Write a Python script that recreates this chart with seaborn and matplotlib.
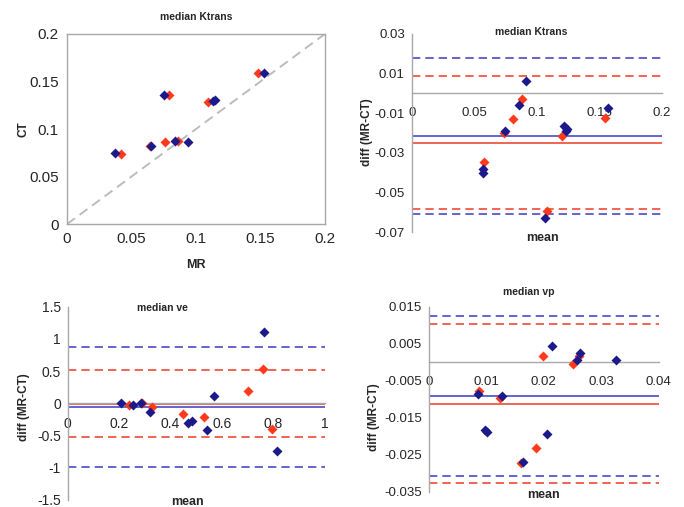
import numpy as np
import pandas as pd
import matplotlib
matplotlib.use('Agg')
import matplotlib.pyplot as plt
import seaborn as sns

# panel 1: median Ktrans, MR vs CT
kt_blue_mr = [0.037, 0.065, 0.075, 0.084, 0.094, 0.113, 0.115, 0.153]
kt_blue_ct = [0.075, 0.082, 0.136, 0.087, 0.086, 0.129, 0.131, 0.159]
kt_red_mr = [0.042, 0.064, 0.076, 0.079, 0.086, 0.109, 0.148]
kt_red_ct = [0.074, 0.082, 0.086, 0.136, 0.087, 0.128, 0.159]

# panel 2: Bland-Altman Ktrans
ba_kt_blue_mean = [0.091, 0.086, 0.0745, 0.057, 0.057, 0.122, 0.124, 0.123, 0.157, 0.1065]
ba_kt_blue_diff = [0.0064, -0.0059, -0.019, -0.038, -0.040, -0.0165, -0.018, -0.019, -0.0071, -0.0627]
ba_kt_red_mean = [0.0878, 0.081, 0.0734, 0.058, 0.120, 0.154, 0.108]
ba_kt_red_diff = [-0.003, -0.0127, -0.020, -0.0347, -0.0217, -0.0124, -0.0593]
ba_kt_blue_lines = [0.0178, -0.0217, -0.0607]
ba_kt_red_lines = [0.009, -0.0249, -0.0581]

# panel 3: Bland-Altman ve
ba_ve_blue_mean = [0.207, 0.253, 0.284, 0.32, 0.469, 0.482, 0.54, 0.567, 0.764, 0.815]
ba_ve_blue_diff = [0.01, -0.02, 0.0, -0.14, -0.30, -0.27, -0.41, 0.11, 1.10, -0.74]
ba_ve_red_mean = [0.24, 0.288, 0.328, 0.449, 0.53, 0.70, 0.76, 0.793]
ba_ve_red_diff = [-0.02, 0.0, -0.06, -0.17, -0.22, 0.19, 0.54, -0.40]
ba_ve_blue_lines = [0.88, -0.06, -0.995]
ba_ve_red_lines = [0.52, -0.01, -0.53]

# panel 4: Bland-Altman vp
ba_vp_blue_mean = [0.0085, 0.0127, 0.0097, 0.0102, 0.0163, 0.0206, 0.0215, 0.0258, 0.0263, 0.0326]
ba_vp_blue_diff = [-0.0085, -0.009, -0.0184, -0.0189, -0.0269, -0.0193, 0.0043, 0.0007, 0.0025, 0.0007]
ba_vp_red_mean = [0.0088, 0.0123, 0.0161, 0.0186, 0.0199, 0.0251, 0.0262]
ba_vp_red_diff = [-0.0079, -0.0097, -0.0273, -0.0233, 0.0016, -0.0005, 0.0016]
ba_vp_blue_lines = [0.0125, -0.0092, -0.0307]
ba_vp_red_lines = [0.0104, -0.0114, -0.0327]

BLUE = '#1c1a8a'
BLUE_LINE = '#4a4ac8'
RED = '#ff3a1c'
RED_LINE = '#f04a35'
GREY = '#a8a8a8'

sns.set_style('white')
plt.rcParams['font.family'] = ['Liberation Sans', 'DejaVu Sans']

fig = plt.figure(figsize=(6.84, 5.07), dpi=100)


def scatter(ax, x, y, color):
    df = pd.DataFrame({'x': x, 'y': y})
    sns.scatterplot(data=df, x='x', y='y', ax=ax, color=color, marker='D',
                    s=26, linewidth=0, zorder=4)


def limits(ax, lines, color):
    ax.axhline(lines[0], color=color, lw=1.2, ls=(0, (5, 3)), zorder=2)
    ax.axhline(lines[1], color=color, lw=1.2, zorder=2)
    ax.axhline(lines[2], color=color, lw=1.2, ls=(0, (5, 3)), zorder=2)


def labels(ax, title, tpos, xl, xpos, yl, ypos):
    ax.set_xlabel('')
    ax.set_ylabel('')
    ax.text(tpos[0], tpos[1], title, transform=ax.transAxes, ha='center',
            va='center', fontsize=7.5, fontweight='bold')
    ax.text(xpos[0], xpos[1], xl, transform=ax.transAxes, ha='center',
            va='center', fontsize=9, fontweight='bold')
    ax.text(ypos[0], ypos[1], yl, transform=ax.transAxes, ha='center',
            va='center', fontsize=8.5, fontweight='bold', rotation=90)


def ba_axes(ax, xticks, xlabs, yticks, ylabs, fs):
    ax.set_xlim(xticks[0], xticks[-1])
    ax.set_ylim(yticks[-1], yticks[0])
    ax.set_xticks(xticks)
    ax.set_xticklabels(xlabs)
    ax.set_yticks(yticks)
    ax.set_yticklabels(ylabs)
    ax.spines['top'].set_visible(False)
    ax.spines['right'].set_visible(False)
    ax.spines['bottom'].set_position(('data', 0))
    for s in ['left', 'bottom']:
        ax.spines[s].set_color(GREY)
        ax.spines[s].set_linewidth(1.0)
    ax.tick_params(axis='both', length=3, color=GREY, labelsize=fs, pad=2)
    ax.tick_params(axis='x', pad=7)


# panel 1
ax1 = fig.add_axes([0.098, 0.558, 0.377, 0.375])
ax1.plot([0, 0.2], [0, 0.2], color='#bcbcbc', lw=1.4, ls=(0, (5, 3)), zorder=1)
scatter(ax1, kt_red_mr, kt_red_ct, RED)
scatter(ax1, kt_blue_mr, kt_blue_ct, BLUE)
ax1.set_xlim(0, 0.2)
ax1.set_ylim(0, 0.2)
ticks = [0, 0.05, 0.1, 0.15, 0.2]
tlabs = ['0', '0.05', '0.1', '0.15', '0.2']
ax1.set_xticks(ticks)
ax1.set_xticklabels(tlabs)
ax1.set_yticks(ticks)
ax1.set_yticklabels(tlabs)
for s in ax1.spines.values():
    s.set_color(GREY)
    s.set_linewidth(1.0)
ax1.tick_params(axis='both', length=3, color=GREY, labelsize=11, pad=3)
labels(ax1, 'median Ktrans', (0.5, 1.09), 'MR', (0.5, -0.215), 'CT', (-0.17, 0.5))

# panel 2
ax2 = fig.add_axes([0.602, 0.542, 0.366, 0.391])
limits(ax2, ba_kt_blue_lines, BLUE_LINE)
limits(ax2, ba_kt_red_lines, RED_LINE)
scatter(ax2, ba_kt_red_mean, ba_kt_red_diff, RED)
scatter(ax2, ba_kt_blue_mean, ba_kt_blue_diff, BLUE)
ba_axes(ax2, [0, 0.05, 0.1, 0.15, 0.2], ['0', '0.05', '0.1', '0.15', '0.2'],
        [0.03, 0.01, -0.01, -0.03, -0.05, -0.07],
        ['0.03', '0.01', '-0.01', '-0.03', '-0.05', '-0.07'], 9.5)
labels(ax2, 'median Ktrans', (0.476, 1.01), 'mean', (0.52, -0.03),
       'diff (MR-CT)', (-0.18, 0.505))

# panel 3
ax3 = fig.add_axes([0.099, 0.014, 0.376, 0.381])
limits(ax3, ba_ve_blue_lines, BLUE_LINE)
limits(ax3, ba_ve_red_lines, RED_LINE)
scatter(ax3, ba_ve_red_mean, ba_ve_red_diff, RED)
scatter(ax3, ba_ve_blue_mean, ba_ve_blue_diff, BLUE)
ba_axes(ax3, [0, 0.2, 0.4, 0.6, 0.8, 1.0], ['0', '0.2', '0.4', '0.6', '0.8', '1'],
        [1.5, 1, 0.5, 0, -0.5, -1, -1.5],
        ['1.5', '1', '0.5', '0', '-0.5', '-1', '-1.5'], 10)
labels(ax3, 'median ve', (0.37, 0.995), 'mean', (0.467, -0.01),
       'diff (MR-CT)', (-0.171, 0.48))

# panel 4
ax4 = fig.add_axes([0.627, 0.030, 0.336, 0.365])
limits(ax4, ba_vp_blue_lines, BLUE_LINE)
limits(ax4, ba_vp_red_lines, RED_LINE)
scatter(ax4, ba_vp_red_mean, ba_vp_red_diff, RED)
scatter(ax4, ba_vp_blue_mean, ba_vp_blue_diff, BLUE)
ba_axes(ax4, [0, 0.01, 0.02, 0.03, 0.04], ['0', '0.01', '0.02', '0.03', '0.04'],
        [0.015, 0.005, -0.005, -0.015, -0.025, -0.035],
        ['0.015', '0.005', '-0.005', '-0.015', '-0.025', '-0.035'], 9.5)
labels(ax4, 'median vp', (0.435, 1.08), 'mean', (0.5, -0.016),
       'diff (MR-CT)', (-0.24, 0.405))

fig.savefig('out.png', dpi=100)
